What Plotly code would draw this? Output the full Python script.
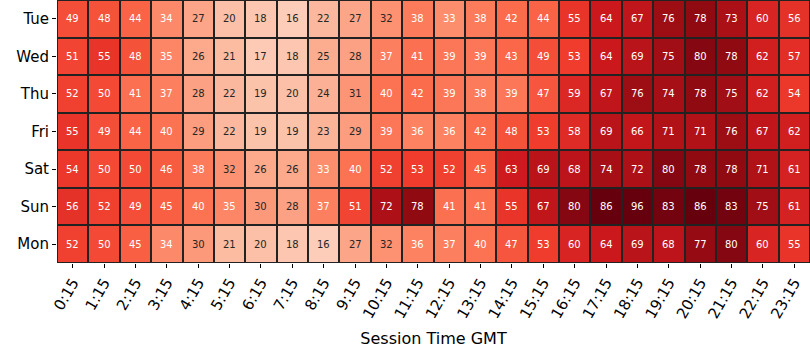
import plotly.graph_objects as go

days = ["Tue", "Wed", "Thu", "Fri", "Sat", "Sun", "Mon"]
times = ["0:15", "1:15", "2:15", "3:15", "4:15", "5:15", "6:15", "7:15", "8:15", "9:15",
         "10:15", "11:15", "12:15", "13:15", "14:15", "15:15", "16:15", "17:15", "18:15",
         "19:15", "20:15", "21:15", "22:15", "23:15"]

tue = [49, 48, 44, 34, 27, 20, 18, 16, 22, 27, 32, 38, 33, 38, 42, 44, 55, 64, 67, 76, 78, 73, 60, 56]
wed = [51, 55, 48, 35, 26, 21, 17, 18, 25, 28, 37, 41, 39, 39, 43, 49, 53, 64, 69, 75, 80, 78, 62, 57]
thu = [52, 50, 41, 37, 28, 22, 19, 20, 24, 31, 40, 42, 39, 38, 39, 47, 59, 67, 76, 74, 78, 75, 62, 54]
fri = [55, 49, 44, 40, 29, 22, 19, 19, 23, 29, 39, 36, 36, 42, 48, 53, 58, 69, 66, 71, 71, 76, 67, 62]
sat = [54, 50, 50, 46, 38, 32, 26, 26, 33, 40, 52, 53, 52, 45, 63, 69, 68, 74, 72, 80, 78, 78, 71, 61]
sun = [56, 52, 49, 45, 40, 35, 30, 28, 37, 51, 72, 78, 41, 41, 55, 67, 80, 86, 96, 83, 86, 83, 75, 61]
mon = [52, 50, 45, 34, 30, 21, 20, 18, 16, 27, 32, 36, 37, 40, 47, 53, 60, 64, 69, 68, 77, 80, 60, 55]

z = [tue, wed, thu, fri, sat, sun, mon]

reds = ["#fff5f0", "#fee0d2", "#fcbba1", "#fc9272", "#fb6a4a", "#ef3b2c", "#cb181d", "#a50f15", "#67000d"]
colorscale = [[i / (len(reds) - 1), c] for i, c in enumerate(reds)]
ZMIN, ZMAX = 0, 85

fig = go.Figure(go.Heatmap(
    z=z, x=times, y=days,
    colorscale=colorscale, zmin=ZMIN, zmax=ZMAX,
    showscale=False, xgap=2, ygap=2, hoverinfo="skip",
))

annotations = []
for d, row in zip(days, z):
    for t, v in zip(times, row):
        annotations.append(dict(
            x=t, y=d, xref="x", yref="y", text=str(v), showarrow=False,
            font=dict(family="DejaVu Sans", size=10,
                      color="#262626" if v <= 32 else "white"),
        ))

fig.update_layout(
    width=810, height=360,
    margin=dict(l=57, r=0, t=0, b=97, autoexpand=False),
    paper_bgcolor="white", plot_bgcolor="#222222",
    font=dict(family="DejaVu Sans", color="black"),
    annotations=annotations,
    hovermode=False,
    xaxis=dict(type="category", ticks="outside", ticklen=4, tickcolor="black",
               tickangle=-60, tickfont=dict(size=15), showgrid=False, zeroline=False,
               automargin=False,
               title=dict(text="Session Time GMT", font=dict(size=16), standoff=12)),
    yaxis=dict(type="category", autorange="reversed", ticks="outside", ticklen=4,
               tickcolor="black", tickfont=dict(size=15), showgrid=False, zeroline=False,
               automargin=False),
)

fig.write_html("out.html", config={"displayModeBar": False},
               post_script="document.body.style.margin='0';")
